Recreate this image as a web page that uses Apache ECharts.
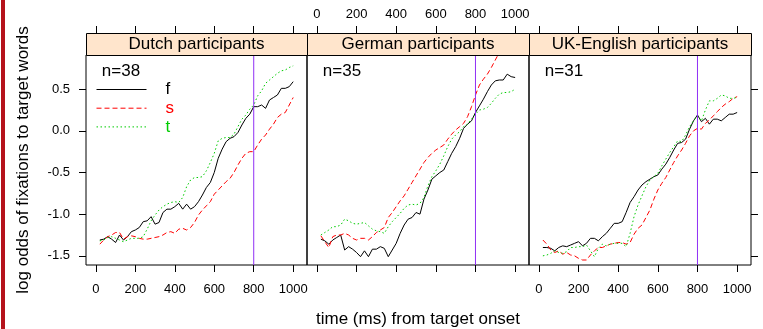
<!DOCTYPE html>
<html><head><meta charset="utf-8">
<script src="https://cdn.jsdelivr.net/npm/echarts@6/dist/echarts.min.js"></script>
<style>html,body{margin:0;padding:0;background:#fff}#c{width:763px;height:329px}</style>
</head><body><div id="c"></div>
<script>
// ---------- DATA ----------
const times = [20,40,60,80,100,120,140,160,180,200,220,240,260,280,300,320,340,360,380,400,420,440,460,480,500,520,540,560,580,600,620,640,660,680,700,720,740,760,780,800,820,840,860,880,900,920,940,960,980,1000];
const panelNames = ['Dutch participants', 'German participants', 'UK-English participants'];
const panelN = ['n=38', 'n=35', 'n=31'];
const seriesNames = ['f', 's', 't'];

const dutch_f = [-1.31,-1.30,-1.27,-1.30,-1.34,-1.25,-1.31,-1.27,-1.21,-1.19,-1.16,-1.09,-1.08,-1.03,-1.12,-1.10,-0.98,-0.94,-0.94,-0.91,-0.87,-0.94,-0.88,-0.94,-0.91,-0.85,-0.77,-0.68,-0.62,-0.50,-0.33,-0.22,-0.13,-0.09,-0.07,-0.02,0.07,0.15,0.20,0.29,0.29,0.31,0.27,0.37,0.40,0.43,0.51,0.51,0.53,0.59];
const dutch_s = [-1.36,-1.31,-1.27,-1.25,-1.22,-1.22,-1.30,-1.27,-1.26,-1.27,-1.29,-1.30,-1.30,-1.29,-1.28,-1.27,-1.25,-1.22,-1.21,-1.23,-1.18,-1.17,-1.19,-1.16,-1.10,-1.01,-0.95,-0.90,-0.85,-0.76,-0.71,-0.66,-0.61,-0.57,-0.50,-0.41,-0.33,-0.27,-0.25,-0.25,-0.17,-0.10,-0.05,0.02,0.08,0.16,0.20,0.22,0.31,0.40];
const dutch_t = [-1.32,-1.31,-1.28,-1.27,-1.29,-1.31,-1.33,-1.31,-1.29,-1.29,-1.29,-1.27,-1.18,-1.08,-1.01,-0.95,-0.91,-0.88,-0.86,-0.85,-0.86,-0.80,-0.67,-0.59,-0.56,-0.56,-0.55,-0.48,-0.38,-0.27,-0.12,-0.09,-0.08,-0.08,-0.04,0.05,0.14,0.19,0.26,0.31,0.42,0.48,0.57,0.61,0.65,0.69,0.72,0.73,0.76,0.78];

const german_f = [-1.30,-1.32,-1.36,-1.31,-1.28,-1.25,-1.43,-1.39,-1.42,-1.46,-1.51,-1.44,-1.51,-1.42,-1.42,-1.39,-1.41,-1.51,-1.43,-1.35,-1.23,-1.13,-1.06,-1.04,-0.98,-1.00,-0.82,-0.71,-0.58,-0.54,-0.50,-0.47,-0.37,-0.27,-0.19,-0.09,0.03,0.08,0.12,0.22,0.30,0.38,0.47,0.55,0.60,0.61,0.61,0.68,0.65,0.64];
const german_s = [-1.26,-1.33,-1.40,-1.27,-1.25,-1.25,-1.23,-1.25,-1.29,-1.31,-1.29,-1.29,-1.31,-1.27,-1.22,-1.19,-1.16,-1.04,-0.98,-0.91,-0.84,-0.78,-0.70,-0.62,-0.54,-0.46,-0.38,-0.32,-0.27,-0.23,-0.20,-0.17,-0.10,-0.04,0.01,0.05,0.09,0.17,0.29,0.43,0.55,0.62,0.68,0.76,0.85,0.94,1.00,1.06,1.12,1.18];
const german_t = [-1.25,-1.22,-1.19,-1.15,-1.15,-1.13,-1.06,-1.08,-1.11,-1.12,-1.11,-1.10,-1.14,-1.18,-1.20,-1.21,-1.23,-1.15,-1.09,-1.04,-0.99,-0.93,-0.89,-0.88,-0.89,-0.87,-0.80,-0.66,-0.55,-0.48,-0.40,-0.30,-0.19,-0.10,-0.05,-0.01,0.05,0.08,0.14,0.20,0.25,0.26,0.28,0.33,0.39,0.44,0.46,0.46,0.47,0.50];

const uk_f = [-1.40,-1.40,-1.41,-1.44,-1.40,-1.38,-1.39,-1.37,-1.35,-1.33,-1.38,-1.35,-1.29,-1.29,-1.32,-1.27,-1.23,-1.17,-1.11,-1.11,-1.09,-0.98,-0.86,-0.79,-0.71,-0.65,-0.61,-0.58,-0.55,-0.53,-0.46,-0.40,-0.32,-0.23,-0.15,-0.14,-0.10,0.02,0.12,0.19,0.11,0.15,0.08,0.14,0.14,0.12,0.16,0.20,0.20,0.22];
const uk_s = [-1.31,-1.36,-1.43,-1.46,-1.44,-1.48,-1.46,-1.49,-1.50,-1.53,-1.55,-1.55,-1.49,-1.44,-1.40,-1.40,-1.38,-1.36,-1.35,-1.34,-1.34,-1.36,-1.34,-1.24,-1.17,-1.13,-1.04,-0.95,-0.82,-0.71,-0.63,-0.56,-0.47,-0.38,-0.30,-0.23,-0.15,-0.06,0.00,0.03,0.02,0.09,0.13,0.18,0.23,0.28,0.32,0.35,0.39,0.41];
const uk_t = [-1.50,-1.49,-1.47,-1.44,-1.46,-1.47,-1.45,-1.40,-1.40,-1.39,-1.39,-1.37,-1.44,-1.51,-1.41,-1.36,-1.38,-1.36,-1.35,-1.35,-1.35,-1.39,-1.23,-1.03,-0.89,-0.78,-0.67,-0.59,-0.55,-0.51,-0.42,-0.34,-0.26,-0.19,-0.12,-0.13,-0.05,0.05,0.12,0.18,0.12,0.25,0.36,0.36,0.39,0.43,0.42,0.39,0.39,0.40];

const xTicks = [0, 200, 400, 600, 800, 1000];
const yTicks = [-1.5, -1.0, -0.5, 0.0, 0.5];
const refTime = 800;

// ---------- LAYOUT / STYLE ----------
const panelValues = [[dutch_f, dutch_s, dutch_t], [german_f, german_s, german_t], [uk_f, uk_s, uk_t]];
const FONT = '"Liberation Sans", Arial, sans-serif';
const panels = [{left: 86, width: 221}, {left: 307, width: 222}, {left: 529, width: 222}];
const TOP = 55, HEIGHT = 210, STRIP = 22;
const XMIN = -50, XMAX = 1070, YMIN = -1.61, YMAX = 0.91;
const colors = {f: '#000000', s: '#FF0000', t: '#00CC00'};
const dashes = {f: 'solid', s: [5, 3], t: [1.5, 2.5]};
const REF_COLOR = '#9030F5';

const grids = [], xAxes = [], yAxes = [], series = [], graphics = [];
const tickStyle = {color: '#000', width: 1};

panels.forEach((p, i) => {
  grids.push({left: p.left, top: TOP, width: p.width, height: HEIGHT, show: true,
    borderColor: '#000', borderWidth: 1, backgroundColor: 'transparent', containLabel: false});
  // bottom axis
  xAxes.push({type: 'value', gridIndex: i, position: 'bottom', min: XMIN, max: XMAX,
    axisLine: {show: false, onZero: false}, splitLine: {show: false},
    axisTick: {show: true, length: 7, customValues: xTicks, lineStyle: tickStyle},
    axisLabel: {show: i !== 1, customValues: xTicks, fontSize: 13, fontFamily: FONT, color: '#000', margin: 18,
      formatter: v => String(v)}});
  // top axis (above strip)
  xAxes.push({type: 'value', gridIndex: i, position: 'top', offset: STRIP, min: XMIN, max: XMAX,
    axisLine: {show: false, onZero: false}, splitLine: {show: false},
    axisTick: {show: true, length: 7, customValues: xTicks, lineStyle: tickStyle},
    axisLabel: {show: i === 1, customValues: xTicks, fontSize: 13, fontFamily: FONT, color: '#000', margin: 12,
      formatter: v => String(v)}});
  yAxes.push({type: 'value', gridIndex: i, min: YMIN, max: YMAX, position: i === 2 ? 'right' : 'left',
    show: i !== 1,
    axisLine: {show: false, onZero: false}, splitLine: {show: false},
    axisTick: {show: true, length: 7, customValues: yTicks, lineStyle: tickStyle},
    axisLabel: {show: i === 0, customValues: yTicks, fontSize: 13, fontFamily: FONT, color: '#000', margin: 16,
      formatter: v => Number(v).toFixed(1)}});

  // vertical reference line at refTime spanning the panel's y range
  series.push({
    type: 'line', name: 'ref' + i, xAxisIndex: i * 2, yAxisIndex: i,
    data: [[refTime, YMIN], [refTime, YMAX]],
    color: REF_COLOR, symbol: 'none', showSymbol: false, silent: true, z: 4,
    lineStyle: {color: REF_COLOR, width: 1, type: 'solid'}
  });

  seriesNames.forEach((name, j) => {
    const vals = panelValues[i][j];
    series.push({
      type: 'line', name: name, xAxisIndex: i * 2, yAxisIndex: i,
      data: times.map((t, k) => [t, vals[k]]),
      color: colors[name],
      symbol: 'none', showSymbol: false, clip: true, smooth: false,
      lineStyle: {color: colors[name], width: 1, type: dashes[name]},
      itemStyle: {color: colors[name]},
      z: 3
    });
  });

  // strip
  graphics.push({type: 'rect', shape: {x: p.left + 0.5, y: TOP - STRIP + 0.5, width: p.width, height: STRIP},
    style: {fill: '#FFE5CC', stroke: '#000', lineWidth: 1}, z: 10});
  graphics.push({type: 'text', x: p.left + p.width / 2, y: TOP - STRIP / 2,
    style: {text: panelNames[i], font: '17px ' + FONT, fill: '#000', align: 'center', verticalAlign: 'middle'}, z: 11});
  graphics.push({type: 'text', x: p.left + 35, y: 71,
    style: {text: panelN[i], font: '17px ' + FONT, fill: '#000', align: 'center', verticalAlign: 'middle'}, z: 11});
});

// axis titles
graphics.push({type: 'text', x: 418, y: 319,
  style: {text: 'time (ms) from target onset', font: '17px ' + FONT, fill: '#000', align: 'center', verticalAlign: 'middle'}});
graphics.push({type: 'text', x: 23, y: 160, rotation: Math.PI / 2,
  style: {text: 'log odds of fixations to target words', font: '17px ' + FONT, fill: '#000', align: 'center', verticalAlign: 'middle'}});
// left edge bar
graphics.push({type: 'rect', shape: {x: 1, y: 0, width: 4, height: 329}, style: {fill: '#B5121B'}});

const chart = echarts.init(document.getElementById('c'), null, {renderer: 'canvas'});
chart.setOption({
  animation: false,
  backgroundColor: '#fff',
  textStyle: {fontFamily: FONT},
  grid: grids, xAxis: xAxes, yAxis: yAxes, series: series,
  legend: {
    orient: 'vertical', left: 96, top: 80, padding: 0, itemWidth: 50, itemHeight: 12, itemGap: -0.3,
    selectedMode: false, itemStyle: {opacity: 0},
    textStyle: {fontSize: 17, fontFamily: FONT, lineHeight: 12, padding: [7, 0, 0, 14]},
    data: seriesNames.map(n => ({name: n, textStyle: {color: colors[n]},
      lineStyle: {color: colors[n], width: 1, type: dashes[n]}}))
  },
  graphic: {elements: graphics}
});
</script></body></html>
